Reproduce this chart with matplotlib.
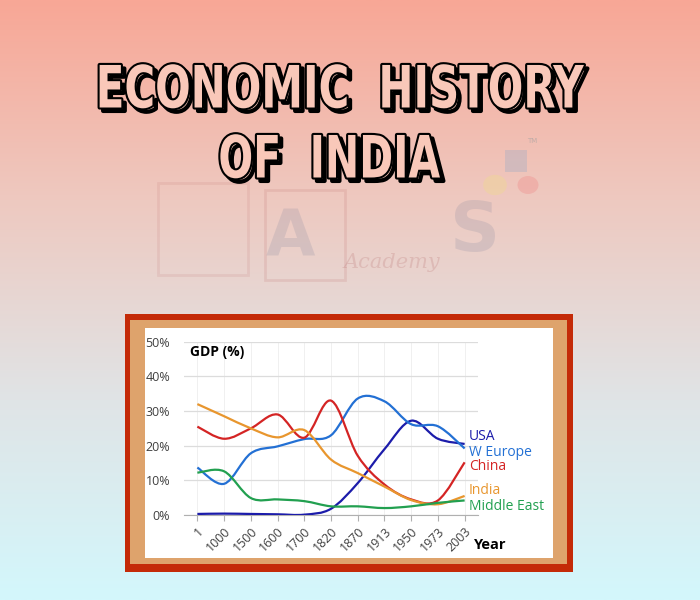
import numpy as np
import matplotlib
matplotlib.use("Agg")
import matplotlib.pyplot as plt
import matplotlib.patheffects as pe
from matplotlib.path import Path
from matplotlib.patches import PathPatch, Rectangle, Circle
from matplotlib.transforms import Affine2D
from matplotlib.colors import LinearSegmentedColormap

# share of world GDP (%)
years = ["1", "1000", "1500", "1600", "1700", "1820", "1870", "1913", "1950", "1973", "2003"]
usa = [0.3, 0.4, 0.3, 0.2, 0.1, 1.8, 9.2, 19.0, 27.2, 22.0, 20.5]
w_europe = [13.7, 9.0, 17.8, 19.8, 21.9, 23.0, 33.6, 32.8, 26.2, 25.6, 19.2]
china = [25.5, 22.0, 25.0, 29.0, 22.3, 33.0, 17.1, 8.8, 4.5, 4.2, 15.2]
india = [32.0, 28.5, 25.0, 22.4, 24.5, 16.0, 12.1, 8.2, 4.3, 3.1, 5.5]
middle_east = [12.2, 12.6, 4.9, 4.5, 4.0, 2.5, 2.5, 2.0, 2.5, 3.5, 4.2]

series = [
    ("USA", usa, "#1c1caa"),
    ("W Europe", w_europe, "#2370d4"),
    ("China", china, "#d42424"),
    ("India", india, "#e8962e"),
    ("Middle East", middle_east, "#22a050"),
]
label_y = [436, 452, 467, 490, 506]  # pixel rows of the end labels

W, H = 700, 600


def smooth_path(xs, ys, t=1 / 6):
    """Excel-like smoothed line as cubic bezier segments."""
    pts = np.column_stack([xs, ys]).astype(float)
    n = len(pts)
    verts = [pts[0]]
    codes = [Path.MOVETO]
    for i in range(n - 1):
        p0 = pts[max(i - 1, 0)]
        p1 = pts[i]
        p2 = pts[i + 1]
        p3 = pts[min(i + 2, n - 1)]
        verts += [p1 + (p2 - p0) * t, p2 - (p3 - p1) * t, p2]
        codes += [Path.CURVE4] * 3
    return Path(verts, codes)


class Squeeze(pe.AbstractPathEffect):
    """Narrow a text horizontally around its centre, then hand it on."""

    def __init__(self, inner, sx):
        super().__init__()
        self.inner = inner
        self.sx = sx

    def draw_path(self, renderer, gc, tpath, affine, rgbFace=None):
        ext = tpath.get_extents()
        cx = (ext.x0 + ext.x1) / 2
        aff = Affine2D().translate(-cx, 0).scale(self.sx, 1).translate(cx, 0) + affine
        self.inner.draw_path(renderer, gc, tpath, aff, rgbFace)


def fx(px):
    return px / W


def fy(py):
    return 1 - py / H


fig = plt.figure(figsize=(7, 6), dpi=100)

# gradient background
bg = fig.add_axes([0, 0, 1, 1])
grad = LinearSegmentedColormap.from_list(
    "bg", ["#f8a796", "#eec9c0", "#e0e4e6", "#d3f7fc"])
bg.imshow(np.linspace(0, 1, 256).reshape(-1, 1), cmap=grad, aspect="auto",
          extent=[0, 1, 0, 1])
bg.set_xlim(0, 1)
bg.set_ylim(0, 1)
bg.axis("off")

# faint watermark logo
wm = dict(transform=fig.transFigure, zorder=1)
fig.text(fx(290), fy(238), "A", fontsize=46, fontweight="bold", color="#8a8aa0",
         ha="center", va="center", family="DejaVu Sans", alpha=0.22, **wm)
fig.text(fx(475), fy(232), "S", fontsize=50, fontweight="bold", color="#8a8aa0",
         ha="center", va="center", family="DejaVu Sans", alpha=0.22, **wm)
fig.text(fx(392), fy(262), "Academy", fontsize=15, style="italic", color="#b06060",
         ha="center", va="center", family="DejaVu Serif", alpha=0.2, **wm)
fig.patches.append(Rectangle((fx(265), fy(280)), fx(80), 90 / H, fill=False,
                             ec="#c07070", lw=2, alpha=0.18, **wm))
fig.patches.append(Rectangle((fx(158), fy(275)), fx(90), 92 / H, fill=False,
                             ec="#c07070", lw=2, alpha=0.15, **wm))
fig.patches.append(Rectangle((fx(505), fy(172)), fx(22), 22 / H, fc="#90a8c8",
                             ec="none", alpha=0.3, **wm))
bg.add_patch(Circle((fx(495), fy(185)), 0.017, fc="#f0e080", ec="none", alpha=0.3,
                    transform=fig.transFigure))
bg.add_patch(Circle((fx(528), fy(185)), 0.015, fc="#f08080", ec="none", alpha=0.3,
                    transform=fig.transFigure))
fig.text(fx(532), fy(143), "TM", fontsize=5, color="#a0a0a0", ha="center",
         transform=fig.transFigure, alpha=0.6)

# title: condensed, outlined, with a drop shadow
titles = [("ECONOMIC  HISTORY", 339, 91, 488), ("OF  INDIA", 329, 161, 222)]
title_texts = []
for txt, x, y, width in titles:
    t = fig.text(fx(x), fy(y), txt, fontsize=42, fontweight="bold",
                 family="DejaVu Sans", color="#f9c8b9", ha="center", va="center")
    title_texts.append((t, width))
fig.canvas.draw()
for t, width in title_texts:
    sx = width / t.get_window_extent().width
    t.set_path_effects([
        Squeeze(pe.Stroke(linewidth=3, foreground="black", offset=(2.5, -2.5)), sx),
        Squeeze(pe.Stroke(linewidth=3, foreground="black"), sx),
        Squeeze(pe.Normal(), sx),
    ])

# framed chart panel
frame = dict(ec="none", transform=fig.transFigure, zorder=2)
fig.patches.append(Rectangle((fx(125), fy(572)), fx(448), 258 / H, fc="#c42a08", **frame))
fig.patches.append(Rectangle((fx(130), fy(564)), fx(437), 244 / H, fc="#dea36c", **frame))
fig.patches.append(Rectangle((fx(145), fy(558)), fx(408), 230 / H, fc="white", **frame))

ax = fig.add_axes([fx(184), fy(515), fx(294), (515 - 341.7) / H])
ax.set_zorder(5)
ax.set_facecolor("none")
ax.set_xlim(-0.5, 10.5)
ax.set_ylim(0, 50)

xs = np.arange(len(years))
for name, vals, color in series:
    ax.add_patch(PathPatch(smooth_path(xs, vals), fill=False, ec=color, lw=1.6,
                           zorder=3))

ax.set_yticks(range(0, 51, 10))
ax.set_yticklabels([f"{v}%" for v in range(0, 51, 10)], fontsize=9,
                   family="Open Sans", color="#404040")
ax.set_xticks(xs)
ax.set_xticklabels(years, rotation=45, ha="right", va="top", rotation_mode="anchor",
                   fontsize=9, family="Open Sans", color="#404040")
ax.tick_params(axis="y", length=0, pad=10)
ax.tick_params(axis="x", length=4, color="#b0b0b0", pad=3)
ax.grid(axis="y", color="#dcdcdc", lw=0.9)
ax.grid(axis="x", color="#f0f0f0", lw=0.7)
for s in ["top", "right", "left"]:
    ax.spines[s].set_visible(False)
ax.spines["bottom"].set_color("#b0b0b0")

ax.text(0.02, 0.94, "GDP (%)", transform=ax.transAxes, fontsize=10,
        fontweight="bold", family="Open Sans", color="black", va="center")
fig.text(fx(474), fy(545), "Year", fontsize=10.5, fontweight="bold",
         family="Open Sans", color="black", va="center", zorder=6)

for (name, vals, color), py in zip(series, label_y):
    fig.text(fx(469), fy(py), name, fontsize=10, family="Open Sans", color=color,
             va="center", zorder=6)

fig.savefig("out.png", dpi=100)
